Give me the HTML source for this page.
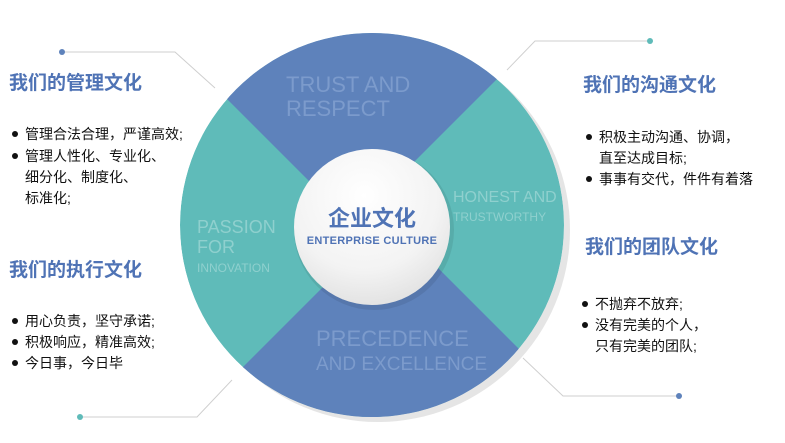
<!DOCTYPE html>
<html><head><meta charset="utf-8"><style>
html,body{margin:0;padding:0;background:#fff;width:785px;height:443px;overflow:hidden;}
svg{display:block;}
</style></head><body>
<svg width="785" height="443" viewBox="0 0 785 443" xmlns="http://www.w3.org/2000/svg" font-family="'Liberation Sans','Noto Sans CJK SC',sans-serif">
<defs>
<clipPath id="c"><circle cx="372" cy="225" r="192"/></clipPath>
<radialGradient id="g" cx="0.45" cy="0.3" r="0.8"><stop offset="0" stop-color="#ffffff"/><stop offset="0.6" stop-color="#f3f3f3"/><stop offset="1" stop-color="#dcdcdc"/></radialGradient>
</defs>
<g stroke="#cfcfcf" stroke-width="1" fill="none">
<polyline points="62,52 175,52 215,88"/>
<polyline points="80,417 197,417 232,380"/>
<polyline points="650,41 535,41 507,70"/>
<polyline points="679,396 563,396 523,358"/>
</g>
<circle cx="62" cy="52" r="3" fill="#5e82bb"/>
<circle cx="80" cy="417" r="3" fill="#5fbbb9"/>
<circle cx="650" cy="41" r="3" fill="#5fbbb9"/>
<circle cx="679" cy="396" r="3" fill="#5e82bb"/>
<circle cx="378" cy="230" r="192" fill="#e5e5e5"/>
<g clip-path="url(#c)">
<circle cx="372" cy="225" r="192" fill="#5fbbb9"/>
<polygon points="352,224 128,0 576,0" fill="#5e82bb"/>
<polygon points="390,220 170,440 610,440" fill="#5e82bb"/>
</g>
<g fill="#7c9bcc">
<text x="286" y="92" font-size="22">TRUST AND</text>
<text x="286" y="116" font-size="22">RESPECT</text>
<text x="316" y="346" font-size="22">PRECEDENCE</text>
<text x="316" y="370" font-size="19">AND EXCELLENCE</text>
</g>
<g fill="#8fd0ce">
<text x="453" y="202" font-size="16">HONEST AND</text>
<text x="453" y="221" font-size="12">TRUSTWORTHY</text>
<text x="197" y="233" font-size="18">PASSION</text>
<text x="197" y="253" font-size="18">FOR</text>
<text x="197" y="272" font-size="12">INNOVATION</text>
</g>
<circle cx="374" cy="230" r="80" fill="#000" opacity="0.08"/>
<circle cx="372" cy="227" r="78" fill="url(#g)"/>
<text x="372" y="226" font-size="22" font-weight="bold" fill="#4f73b5" text-anchor="middle">企业文化</text>
<text x="372" y="244" font-size="11" font-weight="bold" fill="#4f73b5" text-anchor="middle" letter-spacing="0.3">ENTERPRISE  CULTURE</text>
<g font-size="19" font-weight="bold" fill="#4f73b5">
<text x="9" y="89">我们的管理文化</text>
<text x="9" y="276">我们的执行文化</text>
<text x="583" y="91">我们的沟通文化</text>
<text x="585" y="253">我们的团队文化</text>
</g>
<g font-size="14" fill="#111">
<circle cx="15" cy="134" r="3"/><text x="25" y="139">管理合法合理，严谨高效;</text>
<circle cx="15" cy="156" r="3"/><text x="25" y="161">管理人性化、专业化、</text>
<text x="25" y="182">细分化、制度化、</text>
<text x="25" y="203">标准化;</text>
<circle cx="15" cy="321" r="3"/><text x="25" y="326">用心负责，坚守承诺;</text>
<circle cx="15" cy="342" r="3"/><text x="25" y="347">积极响应，精准高效;</text>
<circle cx="15" cy="363" r="3"/><text x="25" y="368">今日事，今日毕</text>
<circle cx="589" cy="137" r="3"/><text x="599" y="142">积极主动沟通、协调，</text>
<text x="599" y="163">直至达成目标;</text>
<circle cx="589" cy="179" r="3"/><text x="599" y="184">事事有交代，件件有着落</text>
<circle cx="585" cy="304" r="3"/><text x="595" y="309">不抛弃不放弃;</text>
<circle cx="585" cy="325" r="3"/><text x="595" y="330">没有完美的个人，</text>
<text x="595" y="351">只有完美的团队;</text>
</g>
</svg>
</body></html>
